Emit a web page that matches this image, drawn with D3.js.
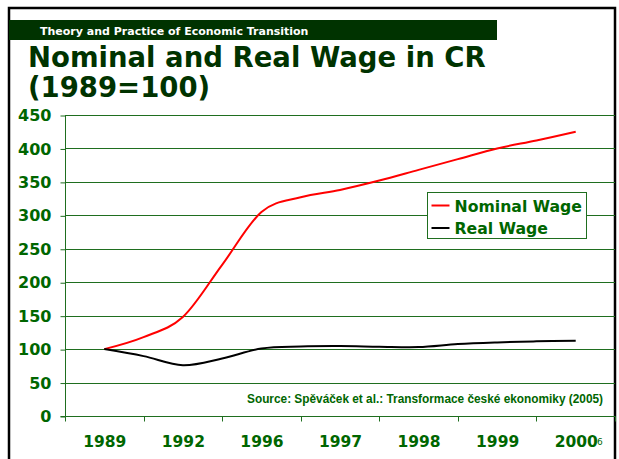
<!DOCTYPE html>
<html>
<head>
<meta charset="utf-8">
<script src="https://cdn.jsdelivr.net/npm/d3@7"></script>
<style>
  html, body { margin: 0; padding: 0; background: #fff; }
  svg { display: block; }
</style>
</head>
<body>
<svg id="chart" width="619" height="459"></svg>
<script>
// category labels on the x axis
const categories = ['1989', '1992', '1996', '1997', '1998', '1999', '2000'];
// the series are sampled twice per category (position = category index)
const positions = [0, 0.5, 1, 1.5, 2, 2.5, 3, 3.5, 4, 4.5, 5, 5.5, 6];
const nominalWage = [100, 118, 148, 226, 305, 327, 338, 352, 368, 384, 400, 412, 425];
const realWage = [100, 89.5, 76, 86, 101, 104, 104.6, 103.6, 103, 107.5, 110, 111.6, 112.6];
const yTicks = [0, 50, 100, 150, 200, 250, 300, 350, 400, 450];

const GREEN_DARK = '#003300';
const GREEN_TEXT = '#006600';
const GREEN_GRID = '#1f6e1f';
const FONT = '"DejaVu Sans", Verdana, sans-serif';

const svg = d3.select('#chart');

// slide frame
svg.append('rect')
    .attr('x', 9).attr('y', 8)
    .attr('width', 606).attr('height', 480)
    .attr('fill', 'none')
    .attr('stroke', '#000')
    .attr('stroke-width', 2.5);

// header bar
svg.append('rect')
    .attr('x', 9).attr('y', 20)
    .attr('width', 488).attr('height', 20)
    .attr('fill', GREEN_DARK);

svg.append('text')
    .attr('x', 40).attr('y', 34.5)
    .attr('font-family', FONT)
    .attr('font-weight', 'bold')
    .attr('font-size', 11)
    .attr('fill', '#fff')
    .text('Theory and Practice of Economic Transition');

svg.append('text')
    .attr('font-family', FONT)
    .attr('font-weight', 'bold')
    .attr('font-size', 27.5)
    .attr('fill', GREEN_DARK)
    .selectAll('tspan')
    .data(['Nominal and Real Wage in CR', '(1989=100)'])
    .join('tspan')
    .attr('x', 28)
    .attr('y', (d, i) => 67 + i * 30)
    .text(d => d);

// plot area
const plotLeft = 65, plotRight = 615, plotTop = 115, plotBottom = 416;

const x = d3.scaleBand()
    .domain(categories)
    .range([plotLeft, plotRight]);

const xPos = d3.scaleLinear()
    .domain([0, categories.length - 1])
    .range([x(categories[0]) + x.bandwidth() / 2,
            x(categories[categories.length - 1]) + x.bandwidth() / 2]);

const y = d3.scaleLinear()
    .domain([0, 450])
    .range([plotBottom, plotTop]);

// horizontal grid lines
svg.append('g')
    .selectAll('line')
    .data(yTicks.filter(d => d > 0))
    .join('line')
    .attr('x1', plotLeft).attr('x2', plotRight)
    .attr('y1', d => Math.round(y(d)) + 0.5)
    .attr('y2', d => Math.round(y(d)) + 0.5)
    .attr('stroke', GREEN_GRID)
    .attr('stroke-width', 1);

// y axis
const yAxis = svg.append('g')
    .attr('transform', `translate(${plotLeft + 0.5},0.5)`)
    .call(d3.axisLeft(y).tickValues(yTicks).tickSize(5).tickPadding(9));

// x axis: labels centred in bands, ticks on band edges
const xAxis = svg.append('g')
    .attr('transform', `translate(0.5,${Math.round(plotBottom) + 0.5})`)
    .call(d3.axisBottom(x).tickSize(0).tickPadding(19));

xAxis.append('g')
    .selectAll('line')
    .data(d3.range(categories.length + 1))
    .join('line')
    .attr('x1', i => Math.round(plotLeft + i * x.bandwidth()))
    .attr('x2', i => Math.round(plotLeft + i * x.bandwidth()))
    .attr('y1', 0).attr('y2', 5)
    .attr('stroke', GREEN_GRID);

[yAxis, xAxis].forEach(g => {
    g.selectAll('.domain').attr('stroke', GREEN_GRID);
    g.selectAll('.tick line').attr('stroke', GREEN_GRID);
    g.selectAll('text')
        .attr('font-family', FONT)
        .attr('font-weight', 'bold')
        .attr('font-size', 15.5)
        .attr('fill', GREEN_TEXT);
});
yAxis.selectAll('text').attr('font-size', 16);
yAxis.select('.domain').attr('d', `M-5,${plotBottom}H0V${plotTop}`);
xAxis.select('.domain').attr('d', `M${plotLeft},0H${plotRight}`);

// series lines
const line = d3.line()
    .x(d => xPos(d[0]))
    .y(d => y(d[1]))
    .curve(d3.curveCatmullRom.alpha(0));

const series = [
    { name: 'Nominal Wage', values: nominalWage, color: '#ff0000' },
    { name: 'Real Wage', values: realWage, color: '#000000' },
];

svg.append('g')
    .selectAll('path')
    .data(series)
    .join('path')
    .attr('d', s => line(positions.map((p, i) => [p, s.values[i]])))
    .attr('fill', 'none')
    .attr('stroke', s => s.color)
    .attr('stroke-width', 2);

// legend
const legend = svg.append('g').attr('transform', 'translate(427.5,192.5)');
legend.append('rect')
    .attr('width', 159).attr('height', 46)
    .attr('fill', '#fff')
    .attr('stroke', GREEN_GRID);

const items = legend.selectAll('g.item')
    .data(series)
    .join('g')
    .attr('class', 'item')
    .attr('transform', (d, i) => `translate(0,${13 + i * 22.5})`);

items.append('line')
    .attr('x1', 4).attr('x2', 22)
    .attr('stroke', d => d.color)
    .attr('stroke-width', 2);

items.append('text')
    .attr('x', 27).attr('y', 6)
    .attr('font-family', FONT)
    .attr('font-weight', 'bold')
    .attr('font-size', 15.7)
    .attr('fill', GREEN_TEXT)
    .text(d => d.name);

// source note
svg.append('text')
    .attr('x', 603).attr('y', 403)
    .attr('text-anchor', 'end')
    .attr('font-family', '"Liberation Sans", Arial, sans-serif')
    .attr('font-weight', 'bold')
    .attr('font-size', 12)
    .attr('fill', GREEN_TEXT)
    .attr('textLength', 356)
    .attr('lengthAdjust', 'spacingAndGlyphs')
    .text('Source: Spěváček et al.: Transformace české ekonomiky (2005)');

// slide page number
svg.append('text')
    .attr('x', 597).attr('y', 445)
    .attr('font-family', FONT)
    .attr('font-size', 9)
    .attr('fill', GREEN_TEXT)
    .text('6');
</script>
</body>
</html>
